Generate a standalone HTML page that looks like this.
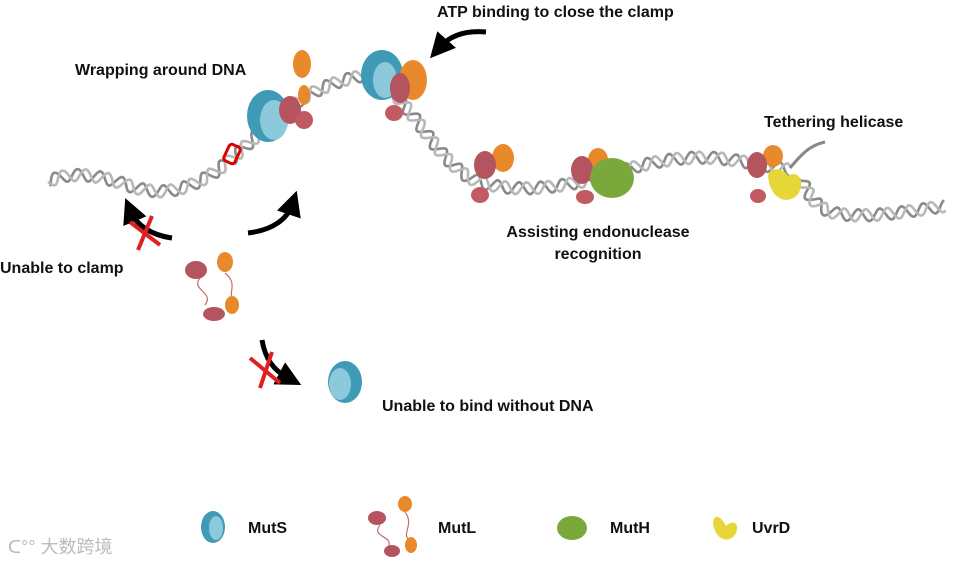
<!DOCTYPE html>
<html><head><meta charset="utf-8"><style>
html,body{margin:0;padding:0;background:#fff;}
svg{display:block;}
text{font-family:"Liberation Sans",Arial,sans-serif;font-weight:bold;font-size:16px;fill:#111;}
</style></head><body>
<svg id="s" width="955" height="565" viewBox="0 0 955 565" xmlns="http://www.w3.org/2000/svg">
<defs>
<marker id="ah" markerWidth="5" markerHeight="5" refX="2" refY="2.5" orient="auto" markerUnits="strokeWidth">
<path d="M0,0 L5,2.5 L0,5 z" fill="#000"/></marker>
</defs>
<g id="guides" fill="none" stroke="none">
<path id="p1" d="M48,182 C70,170 100,175 130,186 C160,196 185,192 215,172 C245,150 270,120 300,100 C330,82 350,78 372,74"/>
<path id="p2" d="M395,95 C420,120 440,160 470,178 C500,192 540,190 580,182 C620,172 650,160 690,158 C720,156 745,162 790,170"/>
<path id="p3" d="M800,178 C810,195 815,210 840,214 C870,218 905,212 945,206"/>
</g>
<g id="dna"></g>
<path d="M790,168 C805,150 812,145 825,142" stroke="#888" stroke-width="3" fill="none"/>
<!-- lesion -->
<rect x="226" y="145" width="12" height="18" rx="3" fill="none" stroke="#d00" stroke-width="3" transform="rotate(25 232 154)"/>
<!-- left complex -->
<ellipse cx="302" cy="64" rx="9" ry="14" fill="#e88a2c"/>
<ellipse cx="304" cy="95" rx="6" ry="10" fill="#e88a2c"/>
<ellipse cx="268" cy="116" rx="21" ry="26" fill="#3f9ab5"/>
<ellipse cx="274" cy="120" rx="14" ry="20" fill="#8cc9dc"/>
<ellipse cx="290" cy="110" rx="11" ry="14" fill="#b4545e"/>
<ellipse cx="304" cy="120" rx="9" ry="9" fill="#c25a62"/>
<!-- top complex -->
<ellipse cx="382" cy="75" rx="21" ry="25" fill="#3f9ab5"/>
<ellipse cx="385" cy="80" rx="12" ry="18" fill="#8cc9dc"/>
<ellipse cx="413" cy="80" rx="14" ry="20" fill="#e88a2c"/>
<ellipse cx="400" cy="88" rx="10" ry="15" fill="#b4545e"/>
<ellipse cx="394" cy="113" rx="9" ry="8" fill="#c25a62"/>
<!-- middle complexes -->
<ellipse cx="503" cy="158" rx="11" ry="14" fill="#e88a2c"/>
<ellipse cx="485" cy="165" rx="11" ry="14" fill="#b4545e"/>
<ellipse cx="480" cy="195" rx="9" ry="8" fill="#c25a62"/>
<ellipse cx="598" cy="160" rx="10" ry="12" fill="#e88a2c"/>
<ellipse cx="582" cy="170" rx="11" ry="14" fill="#b4545e"/>
<ellipse cx="612" cy="178" rx="22" ry="20" fill="#7aa83a"/>
<ellipse cx="585" cy="197" rx="9" ry="7" fill="#c25a62"/>
<!-- right complex -->
<ellipse cx="773" cy="156" rx="10" ry="11" fill="#e88a2c"/>
<ellipse cx="757" cy="165" rx="10" ry="13" fill="#b4545e"/>
<path d="M768,175 C772,165 785,170 788,176 C795,170 805,178 800,190 C795,205 770,205 768,175z" fill="#e6d637"/>
<ellipse cx="758" cy="196" rx="8" ry="7" fill="#c25a62"/>
<!-- free MutL -->
<path d="M200,278 C190,290 215,292 205,305 M225,273 C240,285 225,295 235,300" stroke="#c07070" stroke-width="1.2" fill="none"/>
<ellipse cx="196" cy="270" rx="11" ry="9" fill="#b4545e"/>
<ellipse cx="225" cy="262" rx="8" ry="10" fill="#e88a2c"/>
<ellipse cx="232" cy="305" rx="7" ry="9" fill="#e88a2c"/>
<ellipse cx="214" cy="314" rx="11" ry="7" fill="#b4545e"/>
<!-- free MutS -->
<ellipse cx="345" cy="382" rx="17" ry="21" fill="#3f9ab5"/>
<ellipse cx="340" cy="384" rx="11" ry="16" fill="#8cc9dc"/>
<!-- arrows -->
<g stroke="#000" stroke-width="5" fill="none">
<path d="M486,32 C462,30 448,38 440,47" marker-end="url(#ah)"/>
<path d="M248,233 C275,230 288,217 292,205" marker-end="url(#ah)"/>
<path d="M172,238 C150,235 136,224 131,212" marker-end="url(#ah)"/>
<path d="M262,340 C265,358 273,370 288,378" marker-end="url(#ah)"/>
</g>
<g stroke="#e02020" stroke-width="4">
<path d="M130,222 L160,245 M152,216 L138,250"/>
<path d="M250,358 L280,383 M272,352 L260,388"/>
</g>
<!-- labels -->
<text x="437" y="17">ATP binding to close the clamp</text>
<text x="75" y="75">Wrapping around DNA</text>
<text x="764" y="127">Tethering helicase</text>
<text x="598" y="237" text-anchor="middle">Assisting endonuclease</text>
<text x="598" y="259" text-anchor="middle">recognition</text>
<text x="0" y="273">Unable to clamp</text>
<text x="382" y="411">Unable to bind without DNA</text>
<!-- legend -->
<ellipse cx="213" cy="527" rx="12" ry="16" fill="#3f9ab5"/>
<ellipse cx="216" cy="528" rx="7" ry="12" fill="#8cc9dc"/>
<text x="248" y="533">MutS</text>
<path d="M380,525 C370,538 395,535 388,548 M405,512 C415,525 400,535 410,540" stroke="#c07070" stroke-width="1.2" fill="none"/>
<ellipse cx="377" cy="518" rx="9" ry="7" fill="#b4545e"/>
<ellipse cx="405" cy="504" rx="7" ry="8" fill="#e88a2c"/>
<ellipse cx="411" cy="545" rx="6" ry="8" fill="#e88a2c"/>
<ellipse cx="392" cy="551" rx="8" ry="6" fill="#b4545e"/>
<text x="438" y="533">MutL</text>
<ellipse cx="572" cy="528" rx="15" ry="12" fill="#7aa83a"/>
<text x="610" y="533">MutH</text>
<path d="M713,522 C715,512 722,518 726,526 C732,520 740,522 736,533 C730,545 714,540 713,522z" fill="#e6d637"/>
<text x="752" y="533">UvrD</text>
<text x="8" y="553" style="font-size:18px;font-weight:normal;fill:#bbb;font-family:'Liberation Sans','Noto Sans CJK SC',sans-serif">ᑕ°° 大数跨境</text>
</svg>
<script>
(function(){
var NS="http://www.w3.org/2000/svg",g=document.getElementById("dna");
["p1","p2","p3"].forEach(function(id){
 var p=document.getElementById(id),L=p.getTotalLength(),step=1.5,A=6,per=22;
 var s1=[],s2=[];
 for(var l=0;l<=L;l+=step){
  var a=p.getPointAtLength(l),b=p.getPointAtLength(Math.min(L,l+0.5));
  var dx=b.x-a.x,dy=b.y-a.y,n=Math.sqrt(dx*dx+dy*dy)||1;
  var nx=-dy/n,ny=dx/n,ph=2*Math.PI*l/per;
  var o1=A*Math.sin(ph),o2=A*Math.sin(ph+2.2);
  s1.push((a.x+nx*o1).toFixed(1)+","+(a.y+ny*o1).toFixed(1));
  s2.push((a.x+nx*o2).toFixed(1)+","+(a.y+ny*o2).toFixed(1));
 }
 [[s2,"#8a8a8a"],[s1,"#b8b8b8"]].forEach(function(q){
  var e=document.createElementNS(NS,"polyline");
  e.setAttribute("points",q[0].join(" "));
  e.setAttribute("fill","none");e.setAttribute("stroke",q[1]);
  e.setAttribute("stroke-width","2.6");
  g.appendChild(e);
 });
});
})();
</script>
</body></html>
